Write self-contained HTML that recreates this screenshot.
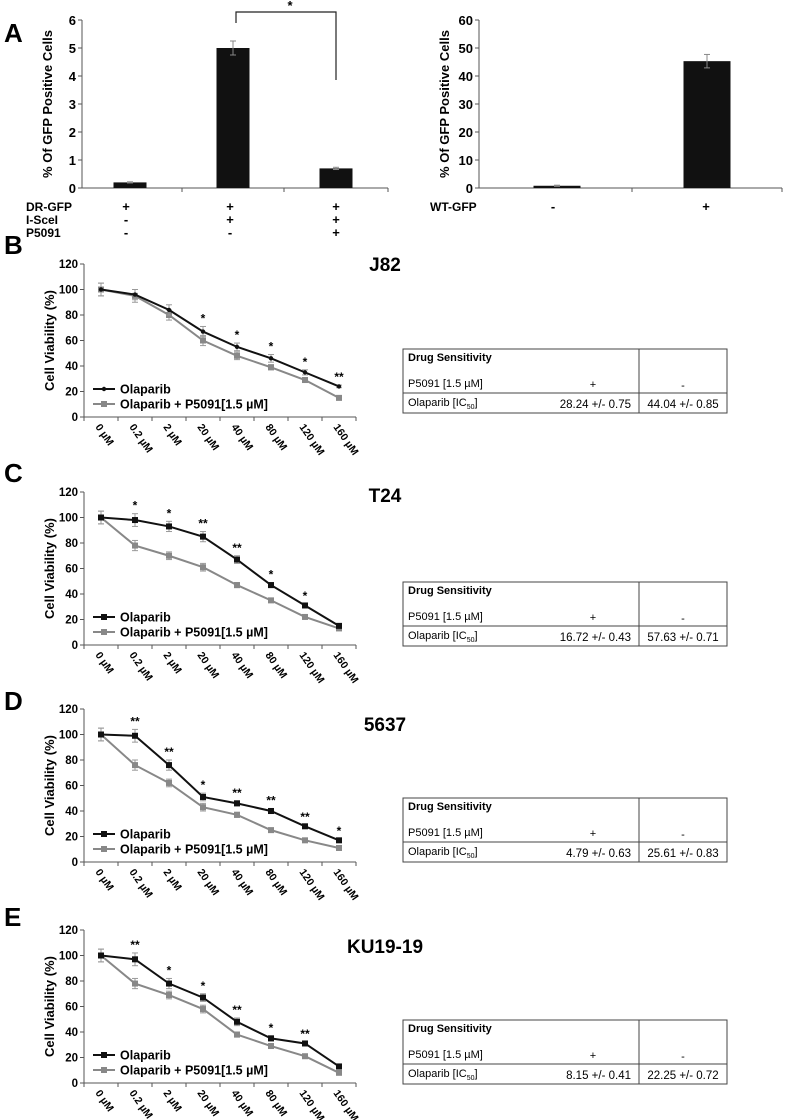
<!DOCTYPE html>
<html><head><meta charset="utf-8"><style>
html,body{margin:0;padding:0;background:#fff;}
svg{display:block;font-family:"Liberation Sans",Arial,sans-serif;}
</style></head><body>
<svg id="fig" width="785" height="1120" viewBox="0 0 785 1120" xmlns="http://www.w3.org/2000/svg"></svg>
<script>
// Panel A data
const aCats = ['c1','c2','c3'];
const aVals = [0.2, 5.0, 0.7];
const aErr = [0.02, 0.25, 0.04];
const aTicks = [0,1,2,3,4,5,6];
const a2Vals = [0.8, 45.3];
const a2Err = [0.2, 2.4];
const a2Ticks = [0,10,20,30,40,50,60];
// Viability data
const doses = ['0 \u00b5M','0.2 \u00b5M','2 \u00b5M','20 \u00b5M','40 \u00b5M','80 \u00b5M','120 \u00b5M','160 \u00b5M'];
const vTicks = [0,20,40,60,80,100,120];
const bOla = [100,96,84,67,55,46,35,24];
const bOlaErr = [5,4,4,4,3,3,2,1];
const bP = [100,95,80,60,48,39,29,15];
const bPErr = [5,5,4,4,3,2,1,1];
const bStars = ['','','','*','*','*','*','**'];
const cOla = [100,98,93,85,67,47,31,15];
const cOlaErr = [5,5,4,4,3,2,1,1];
const cP = [100,78,70,61,47,35,22,13];
const cPErr = [5,4,3,3,2,1,1,1];
const cStars = ['','*','*','**','**','*','*',''];
const dOla = [100,99,76,51,46,40,28,17];
const dOlaErr = [5,5,4,3,2,2,1,1];
const dP = [100,76,62,43,37,25,17,11];
const dPErr = [5,4,3,3,2,1,1,1];
const dStars = ['','**','**','*','**','**','**','*'];
const eOla = [100,97,78,67,48,35,31,13];
const eOlaErr = [5,5,4,3,3,2,1,1];
const eP = [100,78,69,58,38,29,21,8];
const ePErr = [5,4,3,3,2,1,1,1];
const eStars = ['','**','*','*','**','*','**',''];
const tableVals = [['28.24 +/- 0.75','44.04 +/- 0.85'],['16.72 +/- 0.43','57.63 +/- 0.71'],['4.79 +/- 0.63','25.61 +/- 0.83'],['8.15 +/- 0.41','22.25 +/- 0.72']];

const NS='http://www.w3.org/2000/svg';
const svg=document.getElementById('fig');
function mk(tag,attrs,parent,text){const e=document.createElementNS(NS,tag);for(const k in attrs)e.setAttribute(k,attrs[k]);if(text!==undefined)e.textContent=text;(parent||svg).appendChild(e);return e;}
function line(x1,y1,x2,y2,stroke,w,p){return mk('line',{x1,y1,x2,y2,stroke,'stroke-width':w},p);}
function txt(x,y,s,size,opts,p){const o=Object.assign({x,y,'font-size':size},opts||{});return mk('text',o,p,s);}

let el;
el=txt(4,42,'A',26,{'font-weight':'bold'});



function barChart(name,ax,x1,y0,yTop,ticks,vals,errs,centers,bw,tickXs){
  const g=mk('g',{});
  
  
  const max=ticks[ticks.length-1];
  const ys=v=>y0-(v/max)*(y0-yTop);
  line(ax,yTop,ax,y0,'#555',1,g);
  line(ax,y0,x1,y0,'#555',1,g);
  ticks.forEach(t=>{const y=ys(t);line(ax-4,y,ax,y,'#555',1,g);
    const l=txt(ax-6,y+5,String(t),13,{'font-weight':'bold','text-anchor':'end'},g);
    
    });
  tickXs.forEach(x=>line(x,y0,x,y0+4,'#555',1,g));
  vals.forEach((v,i)=>{const cx=centers[i];
    const r=mk('rect',{x:cx-bw/2,y:ys(v),width:bw,height:y0-ys(v),fill:'#111'},g);
    
    
    const e=errs[i];line(cx,ys(v+e),cx,ys(v-e),'#888',1,g);
    line(cx-3,ys(v+e),cx+3,ys(v+e),'#888',1,g);line(cx-3,ys(v-e),cx+3,ys(v-e),'#888',1,g);});
  const t=txt(0,0,'% Of GFP Positive Cells',13,{'font-weight':'bold','text-anchor':'middle',transform:`translate(${ax-30},${(y0+yTop)/2}) rotate(-90)`},g);
  
  
  return ys;
}
barChart('hr-reporter-chart',82,388,188,20,aTicks,aVals,aErr,[130,233,336],33,[182,284,388]);
el=mk('path',{d:'M236 23 L236 12 L336 12 L336 80',fill:'none',stroke:'#222','stroke-width':1.2});


txt(290,10,'*',13,{'text-anchor':'middle','font-weight':'bold'});
const rowLabels=[['DR-GFP',['+','+','+']],['I-SceI',['-','+','+']],['P5091',['-','-','+']]];
rowLabels.forEach((r,i)=>{const y=211+i*13;
  el=txt(26,y,r[0],12,{'font-weight':'bold'});
  
  
  r[1].forEach((s,j)=>txt([126,230,336][j],y,s,13,{'font-weight':'bold','text-anchor':'middle'}));});
barChart('wt-gfp-chart',479,782,188,20,a2Ticks,a2Vals,a2Err,[557,707],47,[632,782]);
el=txt(430,211,'WT-GFP',12,{'font-weight':'bold'});


txt(553,211,'-',13,{'font-weight':'bold','text-anchor':'middle'});
txt(706,211,'+',13,{'font-weight':'bold','text-anchor':'middle'});

const panels=[
 {letter:'B',title:'J82',zero:417,ly:250,ty:271,tbl:349,ola:bOla,olaErr:bOlaErr,p:bP,pErr:bPErr,stars:bStars,diamond:true},
 {letter:'C',title:'T24',zero:645,ly:478,ty:502,tbl:582,ola:cOla,olaErr:cOlaErr,p:cP,pErr:cPErr,stars:cStars},
 {letter:'D',title:'5637',zero:862,ly:706,ty:731,tbl:798,ola:dOla,olaErr:dOlaErr,p:dP,pErr:dPErr,stars:dStars},
 {letter:'E',title:'KU19-19',zero:1083,ly:922,ty:953,tbl:1020,ola:eOla,olaErr:eOlaErr,p:eP,pErr:ePErr,stars:eStars}
];
const AX=84, X0=101, STEP=34, H=153;
panels.forEach((P,pi)=>{
  const g=mk('g',{});
  
  
  const ys=v=>P.zero-v/120*H;
  const xs=i=>X0+i*STEP;
  el=txt(4,P.ly+4,P.letter,26,{'font-weight':'bold'},g);
  
  
  el=txt(385,P.ty,P.title,19,{'font-weight':'bold','text-anchor':'middle'},g);
  
  
  line(AX,ys(120),AX,P.zero,'#555',1,g);
  line(AX,P.zero,356,P.zero,'#555',1,g);
  vTicks.forEach(t=>{const y=ys(t);line(AX-4,y,AX,y,'#555',1,g);
    const l=txt(AX-6,y+4,String(t),11.5,{'font-weight':'bold','text-anchor':'end'},g);
    
    });
  for(let i=0;i<=doses.length;i++){const x=AX+i*(272/8);line(x,P.zero,x,P.zero+4,'#555',1,g);}
  doses.forEach((d,i)=>{const x=xs(i)-6,y=P.zero+10;
    const l=txt(x,y,d,10.5,{'font-weight':'bold',transform:`rotate(55 ${x} ${y})`},g);
    
    });
  const yt=txt(0,0,'Cell Viability (%)',13,{'font-weight':'bold','text-anchor':'middle',transform:`translate(${AX-30},${P.zero-H/2}) rotate(-90)`},g);
  
  
  function series(vals,errs,color,name,diamond){
    const sg=mk('g',{},g);
    
    
    vals.forEach((v,i)=>{const e=errs[i];
      line(xs(i),ys(v+e),xs(i),ys(v-e),'#999',1,sg);
      line(xs(i)-3,ys(v+e),xs(i)+3,ys(v+e),'#999',1,sg);
      line(xs(i)-3,ys(v-e),xs(i)+3,ys(v-e),'#999',1,sg);});
    mk('polyline',{points:vals.map((v,i)=>xs(i)+','+ys(v)).join(' '),fill:'none',stroke:color,'stroke-width':2},sg);
    vals.forEach((v,i)=>{
      const m=diamond?mk('circle',{cx:xs(i),cy:ys(v),r:2.2,fill:color},sg):mk('rect',{x:xs(i)-3,y:ys(v)-3,width:6,height:6,fill:color},sg);
      
      });
  }
  series(P.p,P.pErr,'#888','series-olaparib-p5091',false);
  series(P.ola,P.olaErr,'#111','series-olaparib',P.diamond);
  P.stars.forEach((s,i)=>{if(!s)return;
    const l=txt(xs(i),ys(P.ola[i]+P.olaErr[i])-4,s,12,{'font-weight':'bold','text-anchor':'middle'},g);
    
    });
  const lg=mk('g',{},g);
  
  
  const l1=P.zero-28,l2=P.zero-13;
  line(93,l1,115,l1,'#111',2,lg);
  if(P.diamond)mk('circle',{cx:104,cy:l1,r:2.2,fill:'#111'},lg);else mk('rect',{x:101,y:l1-3,width:6,height:6,fill:'#111'},lg);
  line(93,l2,115,l2,'#888',2,lg);mk('rect',{x:101,y:l2-3,width:6,height:6,fill:'#888'},lg);
  txt(120,l1+4.5,'Olaparib',12.5,{'font-weight':'bold'},lg);
  txt(120,l2+4.5,'Olaparib + P5091[1.5 \u00b5M]',12.5,{'font-weight':'bold'},lg);
  const tg=mk('g',{},svg);
  
  
  const T=P.tbl;
  mk('rect',{x:403,y:T,width:324,height:64,fill:'none',stroke:'#444','stroke-width':1},tg);
  line(639,T,639,T+64,'#444',1,tg);
  line(403,T+44,727,T+44,'#444',1,tg);
  txt(408,T+12,'Drug Sensitivity',11,{'font-weight':'bold'},tg);
  txt(408,T+38,'P5091  [1.5 \u00b5M]',11,{},tg);
  txt(593,T+39,'+',11,{'text-anchor':'middle'},tg);
  txt(683,T+40,'-',11,{'text-anchor':'middle'},tg);
  const ot=txt(408,T+57,'Olaparib [IC',11,{},tg);
  mk('tspan',{'font-size':7,dy:3},ot,'50');
  mk('tspan',{'font-size':11,dy:-3},ot,']');
  txt(631,T+59,tableVals[pi][0],11.5,{'text-anchor':'end'},tg);
  txt(683,T+59,tableVals[pi][1],11.5,{'text-anchor':'middle'},tg);
});
</script>
</body></html>
